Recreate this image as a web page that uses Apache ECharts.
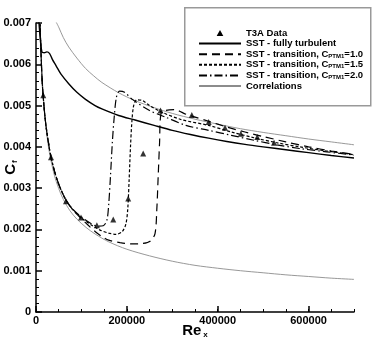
<!DOCTYPE html>
<html>
<head>
<meta charset="utf-8">
<script src="https://cdn.jsdelivr.net/npm/echarts@6/dist/echarts.min.js"></script>
<style>
  html, body { margin: 0; padding: 0; background: #fff; }
  #main { width: 377px; height: 345px; }
</style>
</head>
<body>
<div id="main"></div>
<script>
// tick positions
var xTicks = [0, 200000, 400000, 600000];

// T3A measurements [Re_x, Cf]
var t3aData = [[16000, 0.00525], [33000, 0.00375], [66000, 0.00268], [99000, 0.00229],
  [134000, 0.0021], [170000, 0.00224], [203000, 0.00275], [236000, 0.00384],
  [274000, 0.00488], [343000, 0.00477], [380000, 0.0046], [416000, 0.00446],
  [451000, 0.00432], [487000, 0.00424], [524000, 0.0041]];

// SST fully turbulent
var sstTurb = [[3000, 0.0076], [8000, 0.0068], [13000, 0.0063], [18000, 0.00628], [24000, 0.0063],
  [30000, 0.00626], [36000, 0.00612], [44000, 0.00597], [55000, 0.00576], [72000, 0.00553],
  [90000, 0.00532], [109000, 0.00515], [130000, 0.005], [145000, 0.00492], [182000, 0.00476],
  [218000, 0.00465], [260000, 0.00452], [300000, 0.0044], [340000, 0.0043], [380000, 0.00421],
  [420000, 0.00413], [460000, 0.00406], [500000, 0.004], [550000, 0.00393], [600000, 0.00386],
  [650000, 0.00379], [700000, 0.00373]];

// SST transition, C_PTM1 = 1.0
var sstTr10 = [[7000, 0.0076], [10000, 0.0066], [14000, 0.0055], [20000, 0.0047], [26000, 0.0042],
  [33000, 0.00376], [42000, 0.00336], [52000, 0.00304], [65000, 0.00273], [80000, 0.00249],
  [100000, 0.00226], [115000, 0.0021], [130000, 0.00195], [145000, 0.00183], [160000, 0.00174],
  [185000, 0.00168], [210000, 0.00165], [235000, 0.00166], [252000, 0.00172], [262000, 0.0019],
  [266000, 0.0025], [269000, 0.0033], [272000, 0.0041], [275000, 0.0048], [285000, 0.00488],
  [305000, 0.0049], [330000, 0.00479], [345000, 0.00474], [380000, 0.00462], [420000, 0.00448],
  [460000, 0.00436], [500000, 0.00425], [550000, 0.00412], [600000, 0.004], [650000, 0.0039],
  [700000, 0.00382]];

// SST transition, C_PTM1 = 1.5
var sstTr15 = [[7000, 0.0076], [10000, 0.0066], [14000, 0.0055], [20000, 0.0047], [26000, 0.0042],
  [33000, 0.00376], [42000, 0.00336], [52000, 0.00304], [65000, 0.00273], [80000, 0.00249],
  [100000, 0.00228], [120000, 0.00212], [140000, 0.00199], [160000, 0.00191], [176000, 0.00188],
  [190000, 0.00195], [198000, 0.00214], [202000, 0.0025], [205000, 0.0032], [208000, 0.004],
  [211000, 0.0046], [215000, 0.005], [222000, 0.00514], [235000, 0.00512], [250000, 0.005],
  [277000, 0.00484], [320000, 0.00466], [380000, 0.00452], [430000, 0.00436], [480000, 0.00422],
  [530000, 0.0041], [580000, 0.004], [640000, 0.0039], [700000, 0.00381]];

// SST transition, C_PTM1 = 2.0
var sstTr20 = [[7000, 0.0076], [10000, 0.0066], [14000, 0.0055], [20000, 0.0047], [26000, 0.0042],
  [33000, 0.00376], [42000, 0.00336], [52000, 0.00304], [65000, 0.00273], [80000, 0.0025],
  [100000, 0.0023], [120000, 0.00215], [135000, 0.00208], [148000, 0.00209], [156000, 0.00222],
  [160000, 0.0026], [164000, 0.0033], [168000, 0.0041], [172000, 0.0047], [177000, 0.0052],
  [184000, 0.00535], [195000, 0.00532], [212000, 0.00515], [250000, 0.00488], [285000, 0.00472],
  [330000, 0.00452], [380000, 0.0044], [430000, 0.00428], [480000, 0.00416], [530000, 0.00405],
  [580000, 0.00396], [640000, 0.00388], [700000, 0.0038]];

// correlations (turbulent / laminar)
var corrTurb = [[43000, 0.00705], [50000, 0.0069], [60000, 0.00665], [72000, 0.00642], [90000, 0.00615],
  [109000, 0.0059], [127000, 0.00572], [145000, 0.00556], [182000, 0.00531], [218000, 0.00512],
  [260000, 0.00495], [300000, 0.00481], [350000, 0.00467], [400000, 0.00455], [450000, 0.00444],
  [500000, 0.00435], [550000, 0.00427], [600000, 0.00419], [650000, 0.00412], [700000, 0.00405]];
var corrLam = [[8500, 0.0072], [10000, 0.00664], [12000, 0.00606], [15000, 0.00542], [20000, 0.0047],
  [25000, 0.0042], [30000, 0.00383], [40000, 0.00333], [50000, 0.00299], [60000, 0.00273],
  [75000, 0.00245], [90000, 0.00225], [110000, 0.00205], [130000, 0.00189], [160000, 0.0017],
  [200000, 0.00152], [250000, 0.00136], [300000, 0.00123], [350000, 0.00113], [400000, 0.00106],
  [450000, 0.001], [500000, 0.00095], [550000, 0.0009], [600000, 0.00086], [650000, 0.00082],
  [700000, 0.00079]];

var chart = echarts.init(document.getElementById('main'));

var FONT = 'Liberation Sans';
var legendRich = {
  b: { fontFamily: FONT, fontWeight: 'bold', fontSize: 9.5, color: '#000' },
  s: { fontFamily: FONT, fontWeight: 'bold', fontSize: 6, color: '#000', verticalAlign: 'bottom', padding: [4, 0, 0, 0] }
};

function lineSeries(name, data, dash, color, width) {
  return {
    name: name,
    type: 'line',
    data: data,
    symbol: 'none',
    smooth: 0.3,
    lineStyle: { color: color || '#000', width: width || 1.2, type: dash || 'solid' },
    itemStyle: { color: color || '#000' },
    animation: false
  };
}

var option = {
  animation: false,
  grid: { left: 36, right: 23, top: 23, bottom: 33, outerBoundsMode: 'none', containLabel: false },
  // legend frame
  graphic: [{
    type: 'rect', left: 184, top: 7, z: 90,
    shape: { width: 186, height: 98 },
    style: { fill: '#fff', stroke: '#999', lineWidth: 1.5 }
  }],
  legend: {
    orient: 'vertical',
    left: 198,
    top: 28,
    padding: 0,
    itemGap: 0.6,
    itemWidth: 42,
    itemHeight: 6,
    z: 100,
    itemStyle: { opacity: 0 },
    data: [
      { name: 'T3A Data', icon: 'path://M5,0 L10,9 L0,9 Z', itemStyle: { opacity: 1 } },
      'SST - fully turbulent', 'C10', 'C15', 'C20', 'Correlations'
    ],
    formatter: function (name) {
      if (name === 'C10') return '{b|SST - transition, C}{s|PTM1}{b|=1.0}';
      if (name === 'C15') return '{b|SST - transition, C}{s|PTM1}{b|=1.5}';
      if (name === 'C20') return '{b|SST - transition, C}{s|PTM1}{b|=2.0}';
      return '{b|' + name + '}';
    },
    textStyle: { rich: legendRich, padding: [0, 0, 0, 0] }
  },
  xAxis: [{
    type: 'value', min: 0, max: 700000, interval: 50000,
    name: '{a|Re}{s|x}', nameLocation: 'middle', nameGap: 11, nameMoveOverlap: false,
    nameTextStyle: { rich: {
      a: { fontFamily: FONT, fontWeight: 'bold', fontSize: 15, color: '#000' },
      s: { fontFamily: FONT, fontWeight: 'bold', fontSize: 8, color: '#000', padding: [8, 0, 0, 2] }
    } },
    axisLine: { lineStyle: { color: '#000', width: 1.5 } },
    axisTick: { inside: true, length: 3, lineStyle: { color: '#000', width: 1 } },
    axisLabel: { show: false },
    splitLine: { show: false }
  }, {
    type: 'value', min: 0, max: 700000, position: 'bottom',
    axisLine: { show: false },
    axisTick: { inside: true, length: 6, customValues: xTicks, lineStyle: { color: '#000', width: 1.5 } },
    axisLabel: { customValues: xTicks, fontFamily: FONT, fontWeight: 'bold', fontSize: 11, color: '#000', margin: 3,
      formatter: function (v) { return String(v); } },
    splitLine: { show: false }
  }],
  yAxis: {
    type: 'value', min: 0, max: 0.007, interval: 0.001,
    name: '{a|C}{s|f}', nameLocation: 'middle', nameGap: 17, nameMoveOverlap: false,
    nameTextStyle: { rich: {
      a: { fontFamily: FONT, fontWeight: 'bold', fontSize: 15, color: '#000' },
      s: { fontFamily: FONT, fontWeight: 'bold', fontSize: 8, color: '#000', padding: [8, 0, 0, 1] }
    } },
    axisLine: { show: true, lineStyle: { color: '#000', width: 1.5 } },
    axisTick: { show: true, inside: true, length: 6, lineStyle: { color: '#000', width: 1.5 } },
    minorTick: { show: true, splitNumber: 5, length: 3, lineStyle: { color: '#000', width: 1 } },
    axisLabel: { fontFamily: FONT, fontWeight: 'bold', fontSize: 11, color: '#000', margin: 5,
      formatter: function (v) { return v === 0 ? '0' : v.toFixed(3); } },
    splitLine: { show: false }
  },
  series: [
    lineSeries('Correlations', corrTurb, 'solid', '#8c8c8c', 0.9),
    lineSeries('Correlations', corrLam, 'solid', '#8c8c8c', 0.9),
    lineSeries('SST - fully turbulent', sstTurb, 'solid', '#000', 1.4),
    lineSeries('C10', sstTr10, [8, 5], '#000', 1.2),
    lineSeries('C15', sstTr15, [3, 2], '#000', 1.2),
    lineSeries('C20', sstTr20, [8, 3, 1.5, 3], '#000', 1.2),
    {
      name: 'T3A Data', type: 'scatter', data: t3aData,
      symbol: 'triangle', symbolSize: 6,
      itemStyle: { color: '#000' }, z: 5, animation: false
    }
  ]
};

chart.setOption(option);
</script>
</body>
</html>
